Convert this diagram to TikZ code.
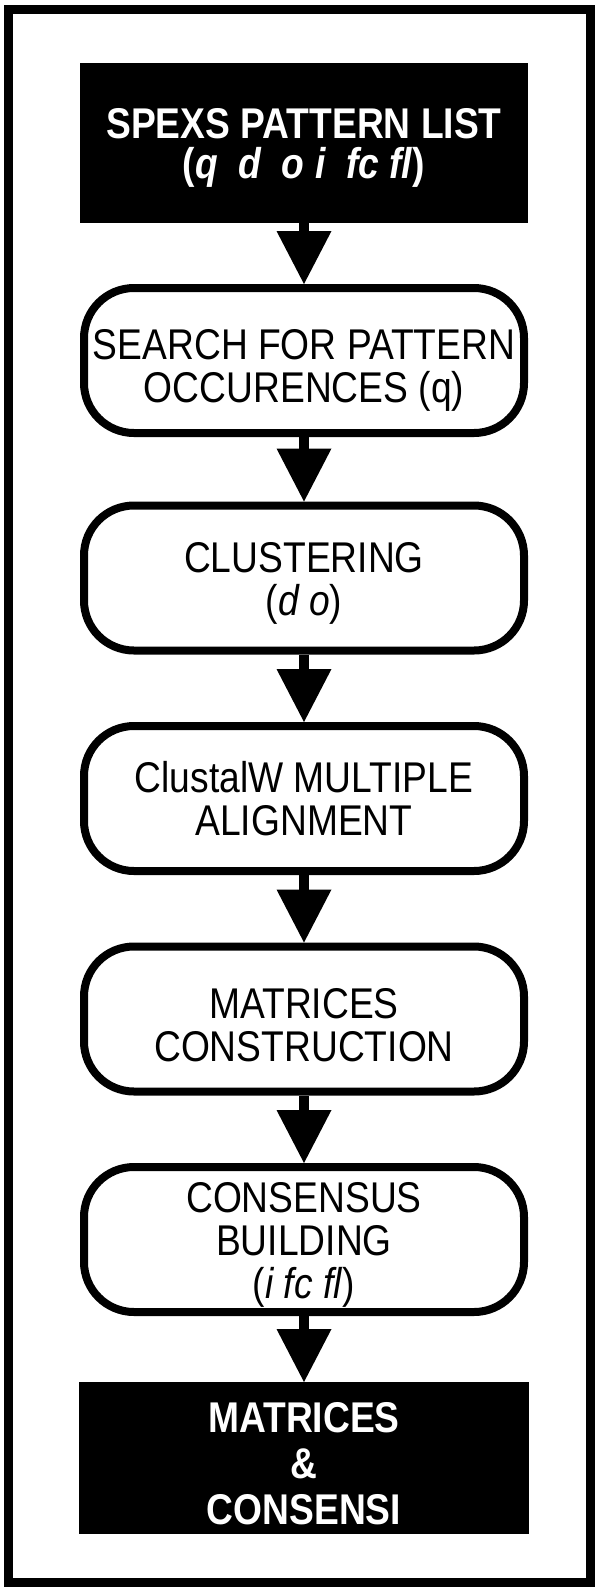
\documentclass[tikz,border=0pt]{standalone}
\usepackage{fontspec}
\setmainfont{Liberation Sans}[FakeStretch=0.865, Ligatures=NoCommon]
\usepackage{tikz}
\usetikzlibrary{arrows.meta}
\usetikzlibrary{positioning}

\tikzset{
  stepround/.style={draw, line width=8pt, rounded corners=50pt, fill=white,
    minimum width=440pt, minimum height=145pt, inner sep=0pt, align=center,
    font=\fontsize{43}{43}\selectfont, text height=74pt, text depth=0pt},
  stepblack/.style={fill=black, draw=none, text=white, outer sep=0pt,
    minimum width=448pt, inner sep=0pt, align=center, text depth=0pt},
  flow/.style={line width=10pt,
    -{Triangle[width=55pt, length=53pt, line width=0pt]}}
}

\begin{document}
\begin{tikzpicture}[x=1pt, y=-1pt]

% The page
\useasboundingbox (0,0) rectangle (596,1588);

% outer frame
\draw[line width=9pt] (8.5,9) rectangle (590,1582);

\def \xMid {304}

% input list
\node[stepblack, minimum height=160pt, text height=71pt,
  font=\fontsize{43}{40}\selectfont\bfseries] (spexs) at (\xMid,143)
  {SPEXS PATTERN LIST\\(\textit{q\ \ d\ \ o i\ \ fc fl})};

% steps
\node[stepround, text height=84pt] (search) at (\xMid,360.5)
  {SEARCH FOR PATTERN\\OCCURENCES (q)};
\node[stepround] (cluster) at (\xMid,578)
  {CLUSTERING\\(\textit{d o})};
\node[stepround] (clustalw) at (\xMid,798.5)
  {ClustalW MULTIPLE\\ALIGNMENT};
\node[stepround, text height=84pt] (matrices) at (\xMid,1019)
  {MATRICES\\CONSTRUCTION};
\node[stepround, text height=117pt] (consensus) at (\xMid,1239.5)
  {CONSENSUS\\BUILDING\\(\textit{i fc fl})};

% output
\node[stepblack, minimum width=450pt, minimum height=152pt,
  text height=132pt,
  font=\fontsize{43}{46}\selectfont\bfseries] (result) at (\xMid,1458)
  {MATRICES\\\&\\CONSENSI};

% arrows between the steps
\foreach \a/\b in {spexs/search, search/cluster, cluster/clustalw,
  clustalw/matrices, matrices/consensus, consensus/result}
  \draw[flow] (\a) -- (\b);

\end{tikzpicture}
\end{document}
